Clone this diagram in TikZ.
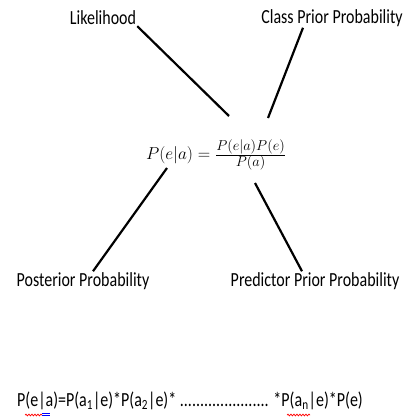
\documentclass[tikz,border=0pt]{standalone}
\usepackage{fontspec}
\setmainfont{Carlito}[FakeStretch=0.8]
\usetikzlibrary{decorations.pathmorphing}

\begin{document}
\begin{tikzpicture}[
  x=1pt, y=-1pt,
  label/.style={
    inner sep=1pt,
    font=\fontsize{20}{22}\selectfont
  },
  formula/.style={inner sep=1pt, font=\fontsize{19}{22}\selectfont},
  line/.style={draw, line width=2.2pt},
  squiggle/.style={draw, line width=0.7pt,
    decorate, decoration={snake, amplitude=0.9pt, segment length=3pt}}
]
\useasboundingbox (0,0) rectangle (409,418);

\node[label] (likelihood) at (103,18) {Likelihood};
\node[label] (classprior) at (332,18) {Class Prior Probability};
\node[formula] (bayes) at (216,155) {$P(e|a) = \frac{P(e|a)P(e)}{P(a)}$};
\node[label] (posterior) at (83,281) {Posterior Probability};
\node[label] (predictor) at (315,281) {Predictor Prior Probability};
\node[label, font=\fontsize{20}{22}\selectfont] (naive) at (190,401)
  {P(e|a)=P(a\textsubscript{1}|e)*P(a\textsubscript{2}|e)* ...................... *P(a\textsubscript{n}|e)*P(e)};

\coordinate (bayesnw) at (229,116);
\coordinate (bayesne) at (268,118);
\coordinate (bayessw) at (167,168);
\coordinate (bayesse) at (255,183);

\draw[line] (likelihood.south east) -- (bayesnw);
\draw[line] ([xshift=-29pt]classprior.south) -- (bayesne);
\draw[line] (bayessw) -- ([xshift=10pt]posterior.north);
\draw[line] (bayesse) -- ([xshift=-13pt]predictor.north);

\draw[squiggle, red] (25,415) -- (42,415);
\draw[squiggle, red] (287,415) -- (310,415);
\draw[blue, line width=0.6pt] (42,413) -- (50,413) (42,415.5) -- (50,415.5);
\end{tikzpicture}
\end{document}
